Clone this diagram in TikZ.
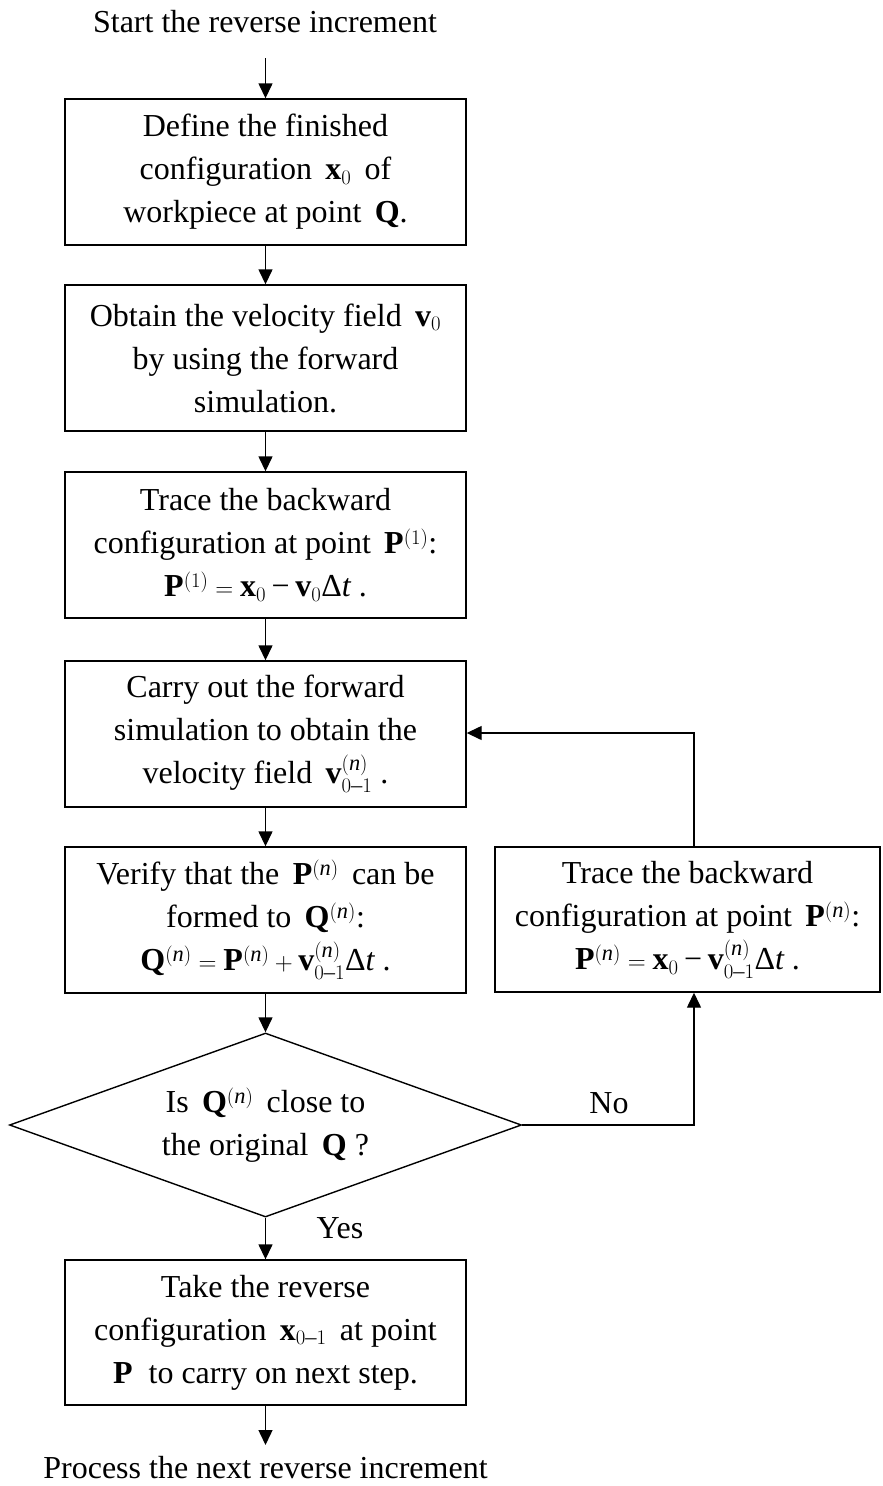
\documentclass[tikz,border=0pt]{standalone}
\usepackage{amsmath}
\usepackage{fontspec}
\setmainfont{Liberation Serif}
\usetikzlibrary{arrows.meta,shapes.geometric}
\newcommand{\vb}[1]{\mathbf{#1}}
\newcommand{\nsup}{^{(\mathit{n})}}
\newcommand{\zo}{_{0\textrm{–}1}}
\newcommand{\mminus}{\mathbin{\textrm{−}}}
\newcommand{\dt}{\textrm{Δ}\mathit{t}}
\begin{document}
\begin{tikzpicture}[x=1pt,y=-1pt,
  font=\fontsize{32}{43}\selectfont,
  line width=1.4pt,
  box/.style={draw, rectangle, align=center, minimum width=401pt, minimum height=146pt, inner sep=0pt},
  arr/.style={-{Triangle[length=15pt,width=14pt]}},
  lbl/.style={anchor=base, inner sep=0pt}]
\useasboundingbox (0,0) rectangle (883,1486);

\node[lbl] (start) at (265,32) {Start the reverse increment};

\node[box] (b1) at (265.5,172) {Define the finished\\configuration\, $\vb{x}_0$\, of\\workpiece at point\, $\vb{Q}$.};
\node[box] (b2) at (265.5,358) {Obtain the velocity field\, $\vb{v}_0$\\by using the forward\\simulation.};
\node[box] (b3) at (265.5,545) {Trace the backward\\configuration at point\, $\vb{P}^{(1)}$:\\$\vb{P}^{(1)} = \vb{x}_0 \mminus \vb{v}_0\dt$ .};
\node[box] (b4) at (265.5,734) {Carry out the forward\\simulation to obtain the\\velocity field\, $\vb{v}\nsup\zo$ .};
\node[box] (b5) at (265.5,920) {Verify that the\, $\vb{P}\nsup$\, can be\\formed to\, $\vb{Q}\nsup$:\\$\vb{Q}\nsup = \vb{P}\nsup + \vb{v}\nsup\zo\dt$ .};
\node[box, minimum width=385pt, minimum height=145pt] (br) at (687.5,919.5) {Trace the backward\\configuration at point\, $\vb{P}\nsup$:\\$\vb{P}\nsup = \vb{x}_0 \mminus \vb{v}\nsup\zo\dt$ .};

\node[draw, diamond, aspect=2.7826, minimum width=512pt, minimum height=184pt, inner sep=0pt, align=center] (dia) at (265.5,1125) {Is\, $\vb{Q}\nsup$\, close to\\the original\, $\vb{Q}$ ?};

\node[box, minimum height=145pt] (b6) at (265.5,1332.5) {Take the reverse\\configuration\, $\vb{x}\zo$\, at point\\$\vb{P}$\ \ to carry on next step.};

\node[lbl] (end) at (265.5,1478) {Process the next reverse increment};

\node[lbl] (yes) at (340,1238) {Yes};
\node[lbl] (no) at (609,1113) {No};

\coordinate (lx) at (694,733);
\coordinate (nx) at (694,1125);

\draw[arr] ([yshift=-26pt]start.base -| b1.north) -- (b1.north);
\draw[arr] (b1.south) -- (b2.north);
\draw[arr] (b2.south) -- (b3.north);
\draw[arr] (b3.south) -- (b4.north);
\draw[arr] (b4.south) -- (b5.north);
\draw[arr] (b5.south) -- (dia.north);
\draw[arr] (dia.south) -- (b6.north);
\draw[arr] (b6.south) -- ([yshift=33pt]end.base);
\draw[arr] (dia.east) -- (nx) -- (nx |- br.south);
\draw[arr] (lx |- br.north) -- (lx) -- (b4.east |- lx);
\end{tikzpicture}
\end{document}
